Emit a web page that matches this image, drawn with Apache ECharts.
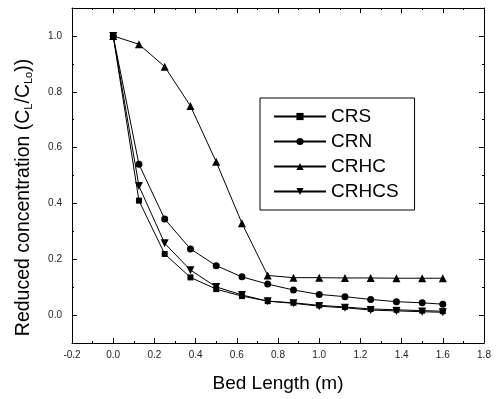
<!DOCTYPE html>
<html>
<head>
<meta charset="utf-8">
<script src="https://cdn.jsdelivr.net/npm/echarts@6/dist/echarts.min.js"></script>
<style>
  html, body { margin: 0; padding: 0; background: #fff; }
  #chart { width: 499px; height: 399px; }
</style>
</head>
<body>
<div id="chart"></div>
<script>
// bed length (m)
const bedLength = [0, 0.125, 0.25, 0.375, 0.5, 0.625, 0.75, 0.875, 1.0, 1.125, 1.25, 1.375, 1.5, 1.6];

// reduced concentration C_L/C_Lo
const crs   = [1.0, 0.410, 0.219, 0.135, 0.093, 0.068, 0.050, 0.044, 0.035, 0.029, 0.022, 0.019, 0.016, 0.014];
const crn   = [1.0, 0.540, 0.344, 0.237, 0.177, 0.137, 0.111, 0.090, 0.074, 0.066, 0.056, 0.048, 0.044, 0.039];
const crhc  = [1.0, 0.970, 0.890, 0.749, 0.549, 0.329, 0.142, 0.134, 0.134, 0.133, 0.133, 0.132, 0.132, 0.132];
const crhcs = [1.0, 0.462, 0.257, 0.161, 0.101, 0.072, 0.050, 0.042, 0.032, 0.026, 0.018, 0.015, 0.012, 0.010];

const seriesNames = ['CRS', 'CRN', 'CRHC', 'CRHCS'];
const yLabelValues = [0.0, 0.2, 0.4, 0.6, 0.8, 1.0];

const FONT = 'Liberation Sans, Arial, sans-serif';
const toPairs = arr => arr.map((v, i) => [bedLength[i], v]);

const chart = echarts.init(document.getElementById('chart'));

const xBase = {
  type: 'value',
  min: -0.2,
  max: 1.8,
  interval: 0.2,
  splitLine: { show: false },
  axisLine: { show: true, onZero: false, lineStyle: { color: '#000', width: 1 } },
  axisTick: { inside: true, length: 5, lineStyle: { color: '#000' } },
  minorTick: { show: true, splitNumber: 2, length: 2, lineStyle: { color: '#000' } },
  minorSplitLine: { show: false }
};

const yBase = {
  type: 'value',
  min: -0.1,
  max: 1.1,
  interval: 0.1,
  splitLine: { show: false },
  axisLine: { show: true, onZero: false, lineStyle: { color: '#000', width: 1 } },
  axisTick: { show: true, inside: true, length: 2, lineStyle: { color: '#000' } },
  axisLabel: { show: false }
};

// second axis on each side only carries the longer ticks at the labelled values
const yMajor = (pos) => Object.assign({}, yBase, {
  position: pos,
  axisLine: { show: false, onZero: false },
  axisTick: { show: true, inside: true, length: 5, customValues: yLabelValues, lineStyle: { color: '#000' } }
});

const makeSeries = (name, data, symbol, size, rotate) => ({
  name: name,
  type: 'line',
  data: toPairs(data),
  symbol: symbol,
  symbolSize: size,
  symbolRotate: rotate || 0,
  showSymbol: true,
  lineStyle: { color: '#000', width: 1 },
  itemStyle: { color: '#000' },
  emphasis: { disabled: true },
  animation: false
});

chart.setOption({
  backgroundColor: '#fff',
  textStyle: { fontFamily: FONT },
  grid: { left: 72, right: 15, top: 8, bottom: 56, containLabel: false },
  legend: {
    orient: 'vertical',
    left: 260,
    top: 98,
    data: seriesNames,
    padding: [9, 16, 9, 13],
    itemGap: 6,
    itemWidth: 52,
    itemHeight: 9,
    borderColor: '#000',
    borderWidth: 1,
    backgroundColor: '#fff',
    textStyle: { fontFamily: FONT, fontSize: 19, color: '#000' },
    selectedMode: false
  },
  xAxis: [
    Object.assign({}, xBase, {
      position: 'bottom',
      name: 'Bed Length (m)',
      nameLocation: 'middle',
      nameGap: 31,
      nameTextStyle: { fontFamily: FONT, fontSize: 19, color: '#000' },
      axisLabel: {
        fontFamily: FONT, fontSize: 10, color: '#222', margin: 7,
        formatter: v => v.toFixed(1)
      }
    }),
    Object.assign({}, xBase, { position: 'top', axisLabel: { show: false } })
  ],
  yAxis: [
    Object.assign({}, yBase, {
      position: 'left',
      name: 'Reduced concentration (C{sub|L}/C{sub|Lo}))',
      nameLocation: 'middle',
      nameRotate: 90,
      nameGap: 38,
      nameTextStyle: {
        fontFamily: FONT, fontSize: 19.5, color: '#000', padding: [0, 44, 0, 0],
        rich: {
          sub: { fontFamily: FONT, fontSize: 11, color: '#000', verticalAlign: 'bottom', padding: [8, 0, 0, 0] }
        }
      },
      axisLabel: {
        show: true, fontFamily: FONT, fontSize: 10, color: '#222', margin: 10,
        customValues: yLabelValues,
        formatter: v => v.toFixed(1)
      }
    }),
    yMajor('left'),
    Object.assign({}, yBase, { position: 'right' }),
    yMajor('right')
  ],
  series: [
    makeSeries(seriesNames[0], crs, 'rect', 6),
    makeSeries(seriesNames[1], crn, 'circle', 7),
    makeSeries(seriesNames[2], crhc, 'triangle', 8),
    makeSeries(seriesNames[3], crhcs, 'triangle', 8, 180)
  ]
});
</script>
</body>
</html>
